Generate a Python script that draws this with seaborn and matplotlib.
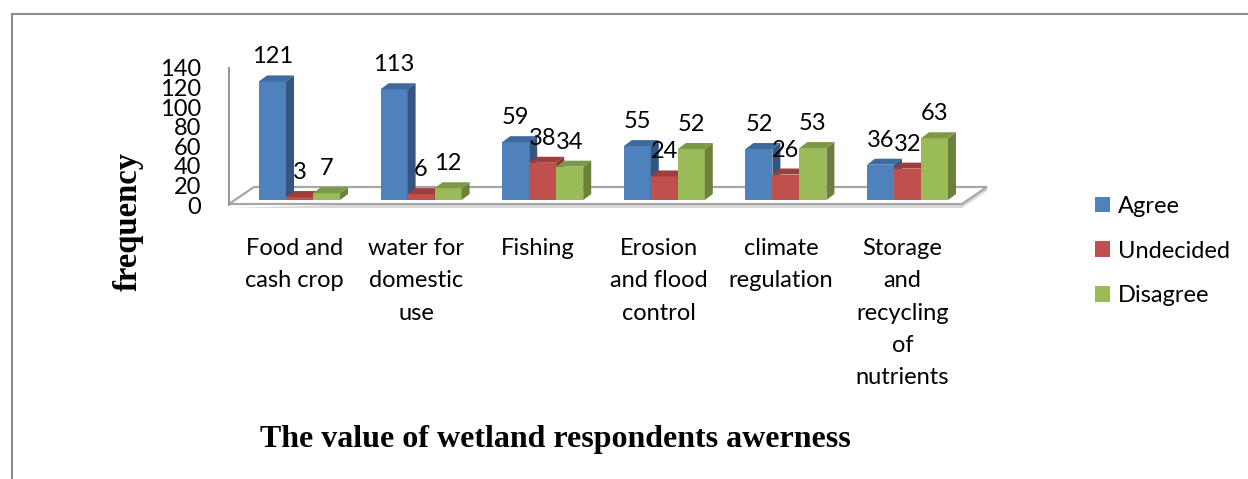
import matplotlib
matplotlib.use("Agg")
import matplotlib.pyplot as plt
import numpy as np
import pandas as pd
import seaborn as sns
from matplotlib.patches import Polygon
from matplotlib.lines import Line2D
from matplotlib.transforms import ScaledTranslation

# ---- data -------------------------------------------------------------
categories = [
    "Food and\ncash crop",
    "water for\ndomestic\nuse",
    "Fishing",
    "Erosion\nand flood\ncontrol",
    "climate\nregulation",
    "Storage\nand\nrecycling\nof\nnutrients",
]
responses = ["Agree", "Undecided", "Disagree"]
agree = [121, 113, 59, 55, 52, 36]
undecided = [3, 6, 38, 24, 26, 32]
disagree = [7, 12, 34, 52, 53, 63]
y_ticks = [0, 20, 40, 60, 80, 100, 120, 140]

title = "The value of wetland respondents awerness"
y_title = "frequency"

df = pd.DataFrame({
    "category": categories * 3,
    "response": np.repeat(responses, len(categories)),
    "count": agree + undecided + disagree,
})

# ---- colours: front / top / side faces of the 3-D columns -------------
front_c = {"Agree": "#4F81BD", "Undecided": "#C0504D", "Disagree": "#9BBB59"}
top_c = {"Agree": "#3F6A9E", "Undecided": "#9C3E3B", "Disagree": "#7D9846"}
side_c = {"Agree": "#34557F", "Undecided": "#843432", "Disagree": "#6A813B"}
grid_grey = "#8C8C8C"
TXT = 17  # body text size (pt)

sns.set_style("white")
plt.rcParams["font.family"] = ["Lato", "DejaVu Sans"]
plt.rcParams["text.color"] = "black"

W, H, DPI = 1248, 479, 100
fig = plt.figure(figsize=(W / DPI, H / DPI), dpi=DPI)


def fx(px):
    return px / W


def fy(py):
    return 1 - py / H


# pixel layout of the plotting region
PPU = 0.98           # pixels per count unit
GROUP_PX = 121.6     # pixels between category groups
FIRST_PX = 299.5     # centre of the first group
AX_L, AX_R, BASE = 229, 962, 200

ax = fig.add_axes([fx(AX_L), fy(BASE), (AX_R - AX_L) / W, 140 * PPU / H])
ax.patch.set_visible(False)
sns.barplot(
    data=df, x="category", y="count", hue="response",
    order=categories, hue_order=responses, palette=front_c,
    width=81 / GROUP_PX, saturation=1, linewidth=0, errorbar=None,
    ax=ax, legend=True,
)
ax.set_xlim((AX_L - FIRST_PX) / GROUP_PX, (AX_R - FIRST_PX) / GROUP_PX)
ax.set_ylim(0, 140)
for s in ax.spines.values():
    s.set_visible(False)
ax.set_xlabel("")
ax.set_ylabel("")
ax.set_yticks([])

# depth of each column, in data units
DX = 8 / GROUP_PX
DY = 6 / PPU

# floor slab
xl, xr = ax.get_xlim()
fdx = 25 / GROUP_PX
front_y, back_y = -4 / PPU, 13 / PPU
ax.add_patch(Polygon([(xl, front_y - 4 / PPU), (xr, front_y - 4 / PPU),
                      (xr + fdx, back_y - 4 / PPU), (xr + fdx, back_y)],
                     closed=True, fc="#D9D9D9", ec="none", zorder=0.5, clip_on=False))
ax.add_patch(Polygon([(xl, front_y), (xr, front_y), (xr + fdx, back_y), (xl + fdx, back_y)],
                     closed=True, fc="white", ec="#A6A6A6", lw=1.6, zorder=1,
                     clip_on=False, joinstyle="miter"))

for k, (cont, resp) in enumerate(zip(ax.containers, responses)):
    for bar in cont:
        x0, w, h = bar.get_x(), bar.get_width(), bar.get_height()
        x1 = x0 + w
        bar.set_zorder(3 + k)
        bar.set_clip_on(False)
        ax.add_patch(Polygon([(x1, 0), (x1, h), (x1 + DX, h + DY), (x1 + DX, DY)],
                             closed=True, fc=side_c[resp], ec="none",
                             zorder=3 + k, clip_on=False))
        ax.add_patch(Polygon([(x0, h), (x1, h), (x1 + DX, h + DY), (x0 + DX, h + DY)],
                             closed=True, fc=top_c[resp], ec="none",
                             zorder=3 + k, clip_on=False))
        ax.annotate(f"{h:g}", xy=(x0 + w / 2, h), xytext=(0, 18 * 72 / DPI),
                    textcoords="offset points", ha="center", va="baseline",
                    fontsize=TXT, color="black", zorder=10, annotation_clip=False)

# category labels
ax.set_xticks(range(len(categories)))
ax.set_xticklabels(categories, linespacing=1.66)
ax.tick_params(axis="x", length=0, pad=27.5, labelsize=TXT, colors="black")
shift = ScaledTranslation(-5 / DPI, 0, fig.dpi_scale_trans)
for lbl in ax.get_xticklabels():
    lbl.set_transform(lbl.get_transform() + shift)

# value axis on the front-left corner of the floor
ax_y = fig.add_axes([fx(AX_L), fy(205), 1 / W, 137 / H])
ax_y.patch.set_visible(False)
ax_y.set_ylim(0, 140)
ax_y.set_yticks(y_ticks)
ax_y.set_xticks([])
for name, s in ax_y.spines.items():
    s.set_visible(name == "left")
ax_y.spines["left"].set_color(grid_grey)
ax_y.spines["left"].set_linewidth(1.3)
ax_y.tick_params(axis="y", length=5, width=1.3, color=grid_grey, pad=15,
                 labelsize=TXT, labelcolor="black")

# legend
leg = ax.get_legend()
handles = leg.legend_handles
labels = [t.get_text() for t in leg.get_texts()]
leg.remove()
fig.legend(handles, labels, loc="center left",
           bbox_to_anchor=(fx(1095), fy(251)), bbox_transform=fig.transFigure,
           frameon=False, borderpad=0, borderaxespad=0, handlelength=0.65,
           handleheight=0.65, handletextpad=0.32, labelspacing=1.0, fontsize=TXT,
           labelcolor="black")

# titles
serif = ["Liberation Serif", "DejaVu Serif"]
fig.text(fx(555), fy(447), title, ha="center", va="baseline", color="black",
         fontsize=23, fontweight="bold", family=serif)
fig.text(fx(128), fy(221), y_title, ha="center", va="center", rotation=90,
         color="black", fontsize=23.5, fontweight="bold", family=serif)

# outer chart frame (left and top edges)
fig.add_artist(Line2D([fx(11.5), fx(11.5)], [fy(13.5), 0], color=grid_grey, lw=1.5))
fig.add_artist(Line2D([fx(11.5), 1], [fy(13.5), fy(13.5)], color=grid_grey, lw=1.5))

fig.savefig("out.png", dpi=DPI)
